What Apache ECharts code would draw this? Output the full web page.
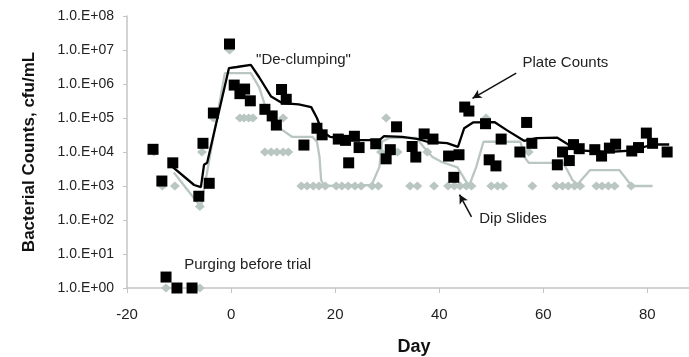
<!DOCTYPE html>
<html>
<head>
<meta charset="utf-8">
<script src="https://cdn.jsdelivr.net/npm/echarts@6/dist/echarts.min.js"></script>
<style>
html,body{margin:0;padding:0;background:#fff;}
#c{width:689px;height:357px;}
</style>
</head>
<body>
<div id="c"></div>
<script>
// ---- data ----
var plateDays = [-15, -13.3, -12.5, -11.2, -10.4, -7.5, -6.2, -5.4, -4.2, -3.4, -0.3, 0.6, 1.7, 2.6, 3.7, 6.5, 7.9, 8.7, 9.7, 10.6,
  14, 16.5, 17.5, 20.6, 22.0, 22.6, 23.7, 24.6, 27.8, 29.8, 30.6, 31.8, 34.8, 35.5, 37.1, 38.8, 41.8, 42.8, 43.8, 44.9, 45.7,
  48.9, 49.6, 50.9, 51.9, 55.5, 56.8, 57.8, 62.7, 63.7, 65.0, 65.8, 66.9, 69.9, 71.2, 72.7, 73.9, 77.0, 78.3, 79.8, 81.0, 83.8];
var plateVals = [12000, 1400, 2.1, 4800, 1, 1, 500, 18000, 1200, 140000, 15000000, 930000, 520000, 710000, 320000, 180000, 115000, 62000, 690000, 355000,
  16000, 50000, 32000, 24000, 22000, 4800, 29000, 13500, 17500, 6300, 11700, 55000, 14500, 7100, 34000, 24000, 7600, 1800, 8300, 210000, 160000,
  68000, 5900, 3900, 24000, 10000, 74000, 18000, 4200, 10000, 5600, 16500, 12500, 11700, 7600, 13000, 17000, 10700, 13500, 36000, 18000, 10000];

var dipDays = [-12.5, -10.4, -7.5, -6.0, -14.8, -13.2, -10.8, -5.6, -6.0, -3.4, -0.3, 1.7, 2.5, 3.4, 4.2, 10.0,
  6.5, 7.7, 8.8, 10.0, 11.0, 13.5, 14.6, 15.8, 16.9, 18.1, 20.2, 21.3, 22.5, 23.8, 25.0, 27.1, 28.3,
  29.8, 28.8, 32.0, 34.4, 35.8, 39.0, 37.7, 41.7, 42.9, 44.0, 45.2, 46.2, 49.0, 50.0, 51.2, 52.3,
  57.2, 57.9, 62.5, 63.7, 64.8, 66.0, 67.1, 70.2, 71.3, 72.5, 73.7, 76.9];
var dipVals = [1, 1, 1, 1, 10000, 1000, 1000, 10000, 250, 100000, 10000000, 100000, 100000, 100000, 100000, 100000,
  10000, 10000, 10000, 10000, 10000, 1000, 1000, 1000, 1000, 1000, 1000, 1000, 1000, 1000, 1000, 1000, 1000,
  100000, 10000, 10000, 1000, 1000, 1000, 10000, 1000, 1000, 1000, 1000, 1000, 100000, 1000, 1000, 1000,
  10000, 1000, 1000, 1000, 1000, 1000, 1000, 1000, 1000, 1000, 1000, 1000];

var plateAvgDays = [-11.2, -7.1, -5.8, -5.2, -4.6, -0.4, 1.1, 3.8, 5.4, 7.7, 9.8, 13, 15.4, 16.5, 17.5, 19, 24, 28.5, 29.4, 32.9, 36,
  37.7, 41.5, 43.6, 44.8, 46.5, 50.6, 52.9, 56.3, 58.7, 62.7, 64.4, 65.6, 67, 72, 77, 81, 84.2];
var plateAvgVals = [3600, 1070, 930, 4200, 4800, 2950000, 3160000, 3630000, 1580000, 427000, 275000, 250000, 209000, 100000, 40000, 28000, 22400, 22400, 29500, 28000, 24000,
  20000, 18200, 14100, 50000, 74000, 76000, 44700, 21400, 25700, 26300, 18200, 13200, 11200, 10000, 11000, 16600, 16600];

var dipAvgDays = [-11, -5.8, -1.2, 3.8, 5.4, 7.3, 9.2, 11.7, 15.6, 16.5, 17, 17.3, 17.9, 27, 28.5, 29, 30.4, 35.6, 37, 38.7, 40.6,
  43.5, 45.2, 45.8, 47.1, 48.5, 55.6, 56.4, 57.2, 63.8, 64.6, 65.6, 66.6, 69, 74.6, 76.6, 77.2, 81];
var dipAvgVals = [2500, 240, 2090000, 2090000, 794000, 100000, 52000, 28000, 28000, 20000, 7100, 1500, 1000, 1070, 3600, 20000, 26000, 26000, 14100, 7100, 5000,
  3550, 1320, 1070, 3600, 20000, 20000, 7100, 4800, 4800, 2950, 1500, 1120, 2950, 2950, 1200, 1000, 1000];

var xTicks = [-20, 0, 20, 40, 60, 80];
var yTickLabels = ['1.0.E+00', '1.0.E+01', '1.0.E+02', '1.0.E+03', '1.0.E+04', '1.0.E+05', '1.0.E+06', '1.0.E+07', '1.0.E+08'];

function zip(a, b) { return a.map(function (d, i) { return [d, b[i]]; }); }

var FONT = '"Liberation Sans", Arial, Helvetica, sans-serif';
var GRAY = '#b9c6c2';
var AXIS = '#c4c4c4';

var chart = echarts.init(document.getElementById('c'), null, { renderer: 'canvas' });
chart.setOption({
  animation: false,
  backgroundColor: '#fff',
  textStyle: { fontFamily: FONT },
  grid: { left: 127, right: 0, top: 16, bottom: 69, containLabel: false, outerBoundsMode: 'none' },
  xAxis: {
    type: 'value', min: -20, max: 88, interval: 20,
    name: 'Day', nameLocation: 'middle', nameGap: 50,
    nameTextStyle: { fontFamily: FONT, fontSize: 18, fontWeight: 'bold', color: '#111', padding: [0, 0, 0, 12] },
    axisLine: { show: true, onZero: false, lineStyle: { color: AXIS, width: 1.5 } },
    axisTick: { show: true, length: 5, lineStyle: { color: AXIS } },
    axisLabel: { fontFamily: FONT, fontSize: 15, color: '#222', margin: 19, showMaxLabel: false,
      formatter: function (v) { return xTicks.indexOf(v) >= 0 ? String(v) : ''; } },
    splitLine: { show: false }
  },
  yAxis: {
    type: 'log', logBase: 10, min: 1, max: 100000000, splitNumber: 8,
    name: 'Bacterial Counts, cfu/mL', nameLocation: 'middle', nameRotate: 90, nameGap: 89,
    nameTextStyle: { fontFamily: FONT, fontSize: 17, fontWeight: 'bold', color: '#111' },
    axisLine: { show: true, onZero: false, lineStyle: { color: AXIS, width: 1.5 } },
    axisTick: { show: true, length: 4, lineStyle: { color: AXIS } },
    axisLabel: { fontFamily: FONT, fontSize: 14, color: '#222', margin: 13,
      formatter: function (v) { var e = Math.round(Math.log10(v)); return yTickLabels[e] || ''; } },
    splitLine: { show: false }
  },
  series: [
    { name: 'Dip slide average', type: 'line', data: zip(dipAvgDays, dipAvgVals), showSymbol: false, symbol: 'none',
      lineStyle: { color: GRAY, width: 2.3 }, z: 2 },
    { name: 'Dip Slides', type: 'scatter', data: zip(dipDays, dipVals), symbol: 'diamond', symbolSize: [10, 9],
      itemStyle: { color: GRAY, opacity: 1 }, z: 3 },
    { name: 'Plate count average', type: 'line', data: zip(plateAvgDays, plateAvgVals), showSymbol: false, symbol: 'none',
      lineStyle: { color: '#000', width: 2.3 }, z: 4 },
    { name: 'Plate Counts', type: 'scatter', data: zip(plateDays, plateVals), symbol: 'rect', symbolSize: 11,
      itemStyle: { color: '#000', opacity: 1 }, z: 5,
      markLine: {
        silent: true, animation: false, symbol: ['none', 'arrow'], symbolSize: [7, 9],
        lineStyle: { color: '#111', width: 1.5, type: 'solid' }, label: { show: false },
        data: [
          [{ coord: [54.8, 2100000] }, { coord: [46.4, 380000] }],
          [{ coord: [46.2, 123] }, { coord: [43.9, 560] }]
        ]
      },
      markPoint: {
        silent: true, animation: false, symbol: 'circle', symbolSize: 0,
        label: { show: true, position: 'right', distance: 0, fontFamily: FONT, fontSize: 15, color: '#222' },
        data: [
          { coord: [4.8, 5000000], value: '"De-clumping"', label: { formatter: '"De-clumping"' } },
          { coord: [56, 4200000], value: 'Plate Counts', label: { formatter: 'Plate Counts' } },
          { coord: [47.7, 105], value: 'Dip Slides', label: { formatter: 'Dip Slides' } },
          { coord: [-9, 4.8], value: 'Purging before trial', label: { formatter: 'Purging before trial' } }
        ]
      }
    }
  ]
});
</script>
</body>
</html>
